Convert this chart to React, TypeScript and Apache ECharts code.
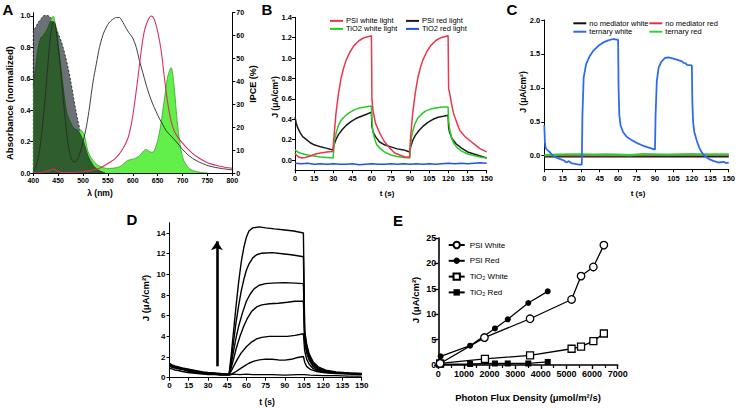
import React, { useEffect, useRef } from 'react';
import * as echarts from 'echarts';

const FONT = '"Liberation Sans", Arial, Helvetica, sans-serif';

// ---------------- Panel A (nm, normalized absorbance / IPCE %) ----------------
const aAbsGray = [[400,0],[400,0.9],[405,0.93],[410,0.96],[415,0.98],[420,1.0],[427,1.005],[433,0.995],[440,0.97],[445,0.935],[450,0.89],[455,0.85],[460,0.8],[465,0.74],[470,0.67],[475,0.59],[480,0.5],[485,0.41],[490,0.33],[495,0.26],[500,0.2],[505,0.15],[510,0.11],[515,0.075],[520,0.05],[525,0.03],[530,0.02],[540,0.005],[545,0]];
const aIpcePct = [[400,38],[405,47],[410,55],[415,59],[420,60],[425,62],[430,64],[435,66.5],[440,68.5],[443,66.5],[447,62],[453,51],[460,38],[467,27],[475,22],[483,19],[490,18.5],[497,18.5],[503,16],[510,9.5],[520,5.5],[533,3],[550,2],[573,2.7],[590,5.5],[603,6.2],[613,7.5],[627,10.3],[637,9],[643,9.6],[653,17],[663,31.5],[670,42],[677,46],[683,38],[690,21],[700,7],[713,2],[733,0.4],[750,0]];
const aOverlap = [[400,0.55],[405,0.68],[410,0.8],[415,0.86],[420,0.875],[425,0.9],[430,0.93],[435,0.965],[440,0.965],[443,0.94],[447,0.9],[453,0.74],[460,0.55],[467,0.39],[475,0.32],[483,0.28],[490,0.27],[497,0.23],[503,0.18],[510,0.11],[520,0.05],[530,0.02],[540,0.005],[545,0]];
const aAbsBlack = [[400,0.01],[405,0.04],[410,0.1],[415,0.2],[420,0.35],[425,0.52],[430,0.72],[435,0.88],[440,0.96],[444,0.95],[450,0.8],[455,0.65],[460,0.48],[467,0.26],[473,0.13],[481,0.07],[487,0.08],[493,0.12],[500,0.2],[507,0.3],[513,0.42],[520,0.58],[527,0.7],[533,0.8],[540,0.88],[547,0.93],[553,0.96],[560,0.98],[567,0.99],[573,0.99],[580,0.96],[587,0.92],[593,0.89],[600,0.86],[607,0.8],[613,0.72],[620,0.64],[627,0.56],[633,0.5],[640,0.44],[647,0.39],[653,0.35],[660,0.31],[667,0.27],[677,0.235],[687,0.2],[700,0.15],[713,0.11],[727,0.08],[740,0.06],[753,0.045],[767,0.035],[780,0.028],[800,0.02]];
const aAbsRed = [[400,0],[420,0.005],[432,0.015],[440,0.025],[447,0.015],[455,0.005],[480,0.003],[500,0.008],[515,0.015],[533,0.03],[550,0.06],[567,0.1],[580,0.155],[590,0.22],[597,0.31],[603,0.43],[610,0.6],[617,0.78],[623,0.9],[630,0.97],[637,1.0],[643,0.98],[650,0.9],[657,0.78],[663,0.62],[670,0.45],[677,0.33],[683,0.27],[690,0.23],[700,0.19],[710,0.155],[720,0.125],[733,0.095],[747,0.07],[760,0.055],[773,0.045],[787,0.035],[800,0.03]];
const aYLeftTicks = [0, 0.2, 0.4, 0.6, 0.8, 1.0];

// ---------------- Panel B (t s, J µA/cm2) ----------------
const bNames = ['PSI white light', 'PSI red light', 'TiO2 white light', 'TiO2 red light'];
const bPsiWhite = [[0,0.07],[1,0.05],[3,0.03],[5,0.02],[8,0.025],[12,0.04],[16,0.06],[20,0.07],[25,0.08],[29.7,0.085],[30.3,0.2],[32,0.45],[34,0.65],[36,0.8],[38,0.9],[40,0.98],[43,1.06],[46,1.12],[50,1.17],[54,1.2],[57,1.21],[59.8,1.22],[60.2,0.6],[61,0.49],[63,0.36],[66.5,0.26],[70,0.18],[74,0.12],[78,0.07],[82,0.05],[86,0.03],[89.7,0.03],[90.3,0.2],[92,0.45],[94,0.65],[96,0.8],[98,0.9],[100,0.98],[103,1.06],[106,1.12],[110,1.17],[114,1.2],[117,1.21],[119.8,1.22],[120.2,0.7],[121,0.66],[122.5,0.55],[124,0.46],[126.5,0.37],[129,0.29],[133,0.23],[137,0.19],[141,0.15],[145,0.11],[150,0.08]];
const bPsiRed = [[0,0.42],[1,0.36],[2,0.32],[4,0.27],[6,0.23],[9,0.2],[12,0.17],[15,0.15],[20,0.13],[25,0.115],[29.7,0.1],[30.3,0.14],[32,0.2],[34,0.25],[37,0.3],[40,0.34],[44,0.38],[48,0.41],[52,0.43],[56,0.45],[59.8,0.47],[60.2,0.33],[61,0.28],[63,0.23],[66,0.18],[70,0.15],[75,0.13],[80,0.11],[85,0.1],[89.7,0.08],[90.3,0.12],[92,0.19],[94,0.24],[97,0.29],[100,0.33],[104,0.37],[108,0.4],[112,0.42],[116,0.43],[119.8,0.44],[120.2,0.32],[121,0.27],[123,0.21],[126,0.16],[130,0.12],[135,0.08],[140,0.06],[145,0.04],[150,0.02]];
const bTiO2White = [[0,0.1],[2,0.08],[5,0.065],[10,0.05],[15,0.04],[20,0.03],[25,0.025],[29.8,0.02],[30.3,0.1],[31,0.2],[32.5,0.28],[34,0.34],[36,0.39],[39,0.43],[42,0.46],[46,0.49],[50,0.51],[55,0.52],[59.8,0.53],[60.2,0.38],[61,0.28],[62.5,0.2],[64,0.15],[67,0.11],[70,0.08],[75,0.05],[80,0.035],[85,0.025],[89.8,0.02],[90.3,0.12],[91,0.22],[92.5,0.3],[94,0.36],[96,0.41],[99,0.45],[102,0.48],[106,0.5],[110,0.51],[115,0.52],[119.8,0.52],[120.2,0.38],[121,0.3],[122.5,0.22],[124,0.17],[127,0.12],[130,0.09],[135,0.06],[140,0.045],[145,0.03],[150,0.02]];
const bTiO2Red = [[0,-0.03],[5,-0.035],[10,-0.03],[15,-0.04],[20,-0.035],[25,-0.04],[30,-0.035],[35,-0.04],[40,-0.04],[45,-0.035],[50,-0.045],[55,-0.04],[60,-0.035],[65,-0.04],[70,-0.04],[75,-0.035],[80,-0.04],[85,-0.035],[90,-0.04],[95,-0.035],[100,-0.04],[105,-0.035],[110,-0.04],[115,-0.035],[120,-0.03],[125,-0.035],[130,-0.03],[135,-0.035],[140,-0.03],[145,-0.025],[150,-0.03]];
const bYTicks = [0, 0.2, 0.4, 0.6, 0.8, 1.0, 1.2, 1.4];

// ---------------- Panel C ----------------
const cNames = ['no mediator white', 'no mediator red', 'ternary white', 'ternary red'];
const cNoMedWhite = [[0,-0.01],[20,-0.012],[40,-0.01],[60,-0.008],[80,-0.01],[100,-0.008],[120,-0.01],[150,-0.01]];
const cNoMedRed = [[0,0.0],[30,0.002],[60,0.0],[90,0.003],[120,0.002],[150,0.003]];
const cTernaryWhite = [[0,0.45],[0.5,0.2],[1,0.12],[2,0.09],[4,0.06],[6,0.02],[8,-0.01],[10,-0.03],[13,-0.05],[16,-0.07],[18,-0.1],[20,-0.08],[22,-0.11],[25,-0.12],[28,-0.13],[30.5,-0.13],[31,0.6],[32,1.15],[34,1.35],[37,1.47],[40,1.55],[44,1.62],[48,1.67],[52,1.7],[56,1.72],[59,1.71],[60,1.71],[60.4,1.0],[61,0.6],[62,0.45],[64,0.35],[67,0.28],[71,0.23],[75,0.19],[80,0.15],[85,0.12],[90,0.09],[90.5,0.6],[91.5,1.1],[93,1.3],[95,1.38],[98,1.44],[101,1.45],[105,1.43],[109,1.41],[112,1.39],[113,1.37],[115,1.36],[116,1.34],[120,1.33],[120.4,0.8],[121,0.5],[122,0.35],[124,0.22],[126,0.12],[128,0.05],[131,-0.01],[134,-0.05],[138,-0.08],[142,-0.1],[146,-0.09],[148,-0.11],[150,-0.1]];
const cTernaryRed = [[0,0.01],[10,0.015],[20,0.02],[30,0.02],[40,0.015],[50,0.02],[60,0.015],[70,0.01],[80,0.025],[90,0.02],[100,0.015],[110,0.02],[120,0.025],[130,0.02],[140,0.02],[150,0.02]];
const cYTicks = [0, 0.5, 1.0, 1.5, 2.0];

// ---------------- Panel D ----------------
const d1 = [[0,0.9],[2,0.85],[4,0.75],[7,0.7],[10,0.6],[14,0.5],[18,0.45],[22,0.4],[26,0.35],[30,0.3],[35,0.3],[40,0.25],[46.5,0.25],[50,0.35],[55,0.3],[60,0.35],[65,0.3],[70,0.3],[80,0.3],[90,0.25],[100,0.3],[105,0.3],[110,0.25],[120,0.2],[130,0.2],[140,0.15],[150,0.15]];
const d2 = [[0,1.2],[2,1.05],[4,0.95],[7,0.9],[10,0.8],[14,0.7],[18,0.6],[22,0.5],[26,0.45],[30,0.4],[35,0.35],[40,0.3],[46.5,0.3],[49,0.4],[52,0.6],[55,0.85],[58,1.1],[62,1.4],[66,1.6],[70,1.72],[75,1.8],[80,1.78],[85,1.72],[90,1.7],[95,1.78],[100,1.95],[104.5,2.05],[105.5,1.5],[107,1.1],[110,0.8],[115,0.6],[120,0.5],[130,0.4],[140,0.35],[150,0.3]];
const d3 = [[0,1.1],[2,1.0],[4,0.95],[7,0.85],[10,0.8],[14,0.65],[18,0.55],[22,0.5],[26,0.45],[30,0.4],[35,0.35],[40,0.3],[46.5,0.3],[48,0.6],[50,1.1],[53,1.8],[56,2.4],[60,3.0],[64,3.45],[68,3.75],[72,3.9],[78,4.0],[85,4.0],[92,4.0],[98,4.1],[104.5,4.25],[105.5,2.6],[107,1.8],[109,1.3],[112,0.9],[116,0.65],[122,0.5],[130,0.45],[140,0.4],[150,0.35]];
const d4 = [[0,1.25],[2,1.1],[4,1.0],[7,0.9],[10,0.85],[14,0.7],[18,0.6],[22,0.55],[26,0.45],[30,0.4],[35,0.35],[40,0.3],[46.5,0.3],[48,0.9],[50,1.8],[52,2.8],[55,4.0],[58,5.0],[61,5.8],[64,6.4],[68,6.85],[72,7.05],[78,7.15],[85,7.2],[92,7.3],[98,7.4],[104.5,7.4],[105.5,3.4],[107,2.4],[109,1.7],[112,1.1],[116,0.75],[122,0.55],[130,0.45],[140,0.4],[150,0.35]];
const d5 = [[0,1.3],[2,1.15],[4,1.0],[7,0.95],[10,0.85],[14,0.75],[18,0.65],[22,0.55],[26,0.5],[30,0.45],[35,0.4],[40,0.35],[46.5,0.3],[48,1.2],[50,2.6],[52,3.9],[54,5.0],[57,6.3],[60,7.4],[63,8.1],[66,8.6],[70,8.95],[75,9.1],[80,9.15],[90,9.2],[98,9.15],[104.5,9.1],[105.5,3.8],[107,2.7],[109,1.9],[112,1.25],[116,0.85],[122,0.6],[130,0.48],[140,0.42],[150,0.38]];
const d6 = [[0,1.35],[2,1.2],[4,1.1],[7,1.0],[10,0.9],[14,0.8],[18,0.7],[22,0.6],[26,0.5],[30,0.45],[35,0.4],[40,0.35],[46.5,0.35],[48,1.5],[50,3.5],[52,5.4],[54,7.0],[56,8.4],[58,9.5],[60,10.4],[62,11.0],[65,11.6],[68,11.9],[72,12.05],[80,12.1],[88,12.0],[95,11.9],[100,11.8],[104.5,11.7],[105.5,4.2],[107,3.0],[109,2.1],[112,1.4],[116,0.95],[122,0.65],[130,0.5],[140,0.43],[150,0.38]];
const d7 = [[0,1.4],[2,1.25],[4,1.15],[7,1.05],[10,0.95],[14,0.85],[18,0.75],[22,0.65],[26,0.55],[30,0.5],[35,0.45],[40,0.4],[46.5,0.35],[48,2.0],[50,4.5],[52,7.0],[54,9.3],[56,11.2],[58,12.6],[60,13.6],[62,14.2],[65,14.5],[70,14.6],[75,14.5],[82,14.4],[90,14.3],[97,14.2],[104.5,14.0],[105.5,4.6],[107,3.3],[109,2.3],[112,1.55],[116,1.05],[122,0.72],[130,0.55],[140,0.45],[150,0.4]];
const dTraces = [d1, d2, d3, d4, d5, d6, d7];
const dArrow = [37, 1.1, 13.2]; // t, from J, to J
const dYTicks = [0, 2, 4, 6, 8, 10, 12, 14];

// ---------------- Panel E ----------------
const eNames = ['PSI White', 'PSI Red', 'TiO\u2082 White', 'TiO\u2082 Red'];
const ePsiWhite = [[70,0.3],[1800,5.4],[3580,9.1],[5200,12.9],[5570,17.5],[6050,19.3],[6460,23.6]];
const ePsiRed = [[90,1.7],[1240,3.8],[2210,7.2],[2710,9.0],[3510,12.2],[4270,14.5]];
const eTiO2White = [[70,0.3],[1820,1.2],[3580,1.9],[5200,3.2],[5570,3.6],[6050,4.7],[6460,6.2]];
const eTiO2Red = [[90,0.1],[1240,0.2],[2210,0.3],[2710,0.3],[3510,0.3],[4270,0.6]];

function merge(a: any, b: any): any {
  const out: any = { ...a };
  for (const k in b) {
    const v = b[k];
    if (v && typeof v === 'object' && !Array.isArray(v) && a[k] && typeof a[k] === 'object') out[k] = merge(a[k], v);
    else out[k] = v;
  }
  return out;
}

const plain = (v: number) => String(v);
const fmt1 = (v: number) => v.toFixed(1);

function axis(fs: number, extra: any) {
  return merge({
    type: 'value',
    axisLine: { show: true, onZero: false, lineStyle: { color: '#000', width: 1 } },
    axisTick: { show: true, inside: false, length: 3, lineStyle: { color: '#000', width: 1 } },
    axisLabel: { color: '#000', fontSize: fs, fontWeight: 'bold', fontFamily: FONT, margin: 3, formatter: plain },
    splitLine: { show: false },
  }, extra);
}

function lineS(name: string, data: any, xi: number, yi: number, color: string, width: number, extra: any = {}) {
  return merge({
    type: 'line', name, data, xAxisIndex: xi, yAxisIndex: yi,
    showSymbol: false, symbol: 'none', silent: true,
    lineStyle: { color, width }, itemStyle: { color },
  }, extra);
}

function txt(text: string, x: number, y: number, size: number, rot = false, weight = 'bold') {
  return {
    type: 'text', x, y, rotation: rot ? Math.PI / 2 : 0, silent: true,
    style: { text, font: `${weight} ${size}px ${FONT}`, fill: '#000', align: 'center', verticalAlign: 'middle', textAlign: 'center', textVerticalAlign: 'middle' },
  };
}

function lineLegend(data: string[], left: number, top: number, lh: number) {
  return {
    data, orient: 'vertical', left, top, padding: 0, itemGap: 0, itemWidth: 13, itemHeight: 2,
    icon: 'rect', selectedMode: false,
    textStyle: { fontSize: 7.5, fontFamily: FONT, color: '#000', lineHeight: lh, padding: [0, 0, 0, -2] },
  };
}

export default function App() {
  const ref = useRef<HTMLDivElement>(null);
  useEffect(() => {
    if (!ref.current) return;
    const chart = echarts.init(ref.current, null, { renderer: 'svg' });
    const option: any = {
      animation: false,
      backgroundColor: '#fff',
      textStyle: { fontFamily: FONT },
      grid: [
        { left: 33.3, top: 12.7, width: 199, height: 160.3 },
        { left: 295, top: 17.3, width: 191.7, height: 153 },
        { left: 544.3, top: 20, width: 186.4, height: 149.3 },
        { left: 169.5, top: 222.7, width: 192.2, height: 155 },
        { left: 438.3, top: 238, width: 179.4, height: 127 },
      ],
      xAxis: [
        axis(7, { gridIndex: 0, min: 400, max: 800, interval: 50, axisLabel: { margin: 4 } }),
        axis(7.5, { gridIndex: 1, min: 0, max: 150, interval: 15, axisLabel: { margin: 4 } }),
        axis(7.5, { gridIndex: 2, min: 0, max: 150, interval: 15, axisLabel: { margin: 5 } }),
        axis(8, { gridIndex: 3, min: 0, max: 150, interval: 15, axisLabel: { margin: 4 } }),
        axis(9, { gridIndex: 4, min: 0, max: 7000, interval: 1000, axisLine: { lineStyle: { width: 1.6 } }, axisTick: { length: 4, lineStyle: { width: 1.4 } }, minorTick: { show: true, splitNumber: 2, length: 3, lineStyle: { color: '#000', width: 1.2 } }, axisLabel: { margin: 4 } }),
      ],
      yAxis: [
        axis(7, { gridIndex: 0, min: 0, max: 1.021, axisLabel: { customValues: aYLeftTicks, formatter: fmt1, margin: 3 }, axisTick: { customValues: aYLeftTicks } }),
        axis(7, { gridIndex: 0, position: 'right', min: 0, max: 70, interval: 10, axisLabel: { margin: 4 } }),
        axis(7.5, { gridIndex: 1, min: -0.1, max: 1.4, axisLabel: { customValues: bYTicks, formatter: fmt1, margin: 3 }, axisTick: { customValues: bYTicks } }),
        axis(7.5, { gridIndex: 2, min: -0.2, max: 2.0, axisLabel: { customValues: cYTicks, formatter: fmt1, margin: 4 }, axisTick: { customValues: cYTicks } }),
        axis(8, { gridIndex: 3, min: 0, max: 15, axisLabel: { customValues: dYTicks, margin: 4 }, axisTick: { customValues: dYTicks } }),
        axis(9, { gridIndex: 4, min: 0, max: 25, interval: 5, axisLine: { lineStyle: { width: 1.6 } }, axisTick: { length: 4, lineStyle: { width: 1.4 } }, axisLabel: { margin: 2 } }),
      ],
      legend: [
        lineLegend([bNames[0], bNames[2]], 330, 16.9, 7.6),
        lineLegend([bNames[1], bNames[3]], 406, 16.9, 7.6),
        lineLegend([cNames[0], cNames[2]], 573.3, 19.1, 8.4),
        lineLegend([cNames[1], cNames[3]], 649.3, 19.1, 8.4),
        {
          data: eNames, orient: 'vertical', left: 447.7, top: 240.5, padding: 0, itemGap: 6.8,
          itemWidth: 16, itemHeight: 8, selectedMode: false,
          textStyle: { fontSize: 8, fontFamily: FONT, color: '#000', lineHeight: 9 },
        },
      ],
      series: [
        // A
        lineS('abs gray', aAbsGray, 0, 0, '#000', 0.7, { smooth: 0.3, lineStyle: { type: [2, 2] }, areaStyle: { color: '#6c7177', opacity: 1 }, z: 1 }),
        lineS('IPCE', aIpcePct, 0, 1, '#3f9f30', 0.8, { smooth: 0.3, areaStyle: { color: '#63ef49', opacity: 1 }, z: 2 }),
        lineS('overlap', aOverlap, 0, 0, '#1e421d', 0.8, { smooth: 0.3, areaStyle: { color: '#2f5d2d', opacity: 1 }, z: 3 }),
        lineS('abs black', aAbsBlack, 0, 0, '#2a2a2a', 0.9, { smooth: 0.3, z: 4 }),
        lineS('abs red', aAbsRed, 0, 0, '#d8315b', 1.1, { smooth: 0.3, z: 5 }),
        // B
        lineS(bNames[1], bPsiRed, 1, 2, '#1a1a1a', 1.5),
        lineS(bNames[2], bTiO2White, 1, 2, '#27c927', 1.5),
        lineS(bNames[3], bTiO2Red, 1, 2, '#2250f0', 1.5),
        lineS(bNames[0], bPsiWhite, 1, 2, '#e8384f', 1.5),
        // C
        lineS(cNames[0], cNoMedWhite, 2, 3, '#111', 2),
        lineS(cNames[1], cNoMedRed, 2, 3, '#d9344f', 1.5),
        lineS(cNames[3], cTernaryRed, 2, 3, '#2fcf3a', 2.2),
        lineS(cNames[2], cTernaryWhite, 2, 3, '#2f6bf0', 1.8),
        // D
        ...dTraces.map((d, i) => lineS('D' + (i + 1), d, 3, 4, '#000', 1.4, i === 0 ? {
          markLine: {
            silent: true, symbol: ['none', 'arrow'], symbolSize: 9, animation: false,
            label: { show: false },
            lineStyle: { color: '#000', width: 2.6, type: 'solid' },
            data: [[{ coord: [dArrow[0], dArrow[1]] }, { coord: [dArrow[0], dArrow[2]] }]],
          },
        } : {})),
        // E
        lineS(eNames[2], eTiO2White, 4, 5, '#000', 1.3, { showSymbol: true, symbol: 'rect', symbolSize: 7, itemStyle: { color: '#fff', borderColor: '#000', borderWidth: 1.3 } }),
        lineS(eNames[3], eTiO2Red, 4, 5, '#000', 1.3, { showSymbol: true, symbol: 'rect', symbolSize: 6, itemStyle: { color: '#000' } }),
        lineS(eNames[1], ePsiRed, 4, 5, '#000', 1.3, { showSymbol: true, symbol: 'circle', symbolSize: 6, itemStyle: { color: '#000' } }),
        lineS(eNames[0], ePsiWhite, 4, 5, '#000', 1.3, { showSymbol: true, symbol: 'circle', symbolSize: 7.5, itemStyle: { color: '#fff', borderColor: '#000', borderWidth: 1.3 } }),
      ],
      graphic: [
        txt('A', 8, 9, 15),
        txt('B', 267, 9, 15),
        txt('C', 512, 9, 15),
        txt('D', 132, 219, 15),
        txt('E', 398, 220, 15),
        txt('Absorbance (normalized)', 9, 103, 9.5, true),
        txt('IPCE (%)', 253, 84, 9, true),
        txt('\u03bb (nm)', 100, 193, 8.5),
        txt('J (\u03bcA/cm\u00b2)', 275, 97, 8.5, true),
        txt('t (s)', 387, 193, 8),
        txt('J (\u03bcA/cm\u00b2)', 523, 92, 8.5, true),
        txt('t (s)', 638, 193, 8),
        txt('J (\u03bcA/cm\u00b2)', 145.5, 298, 9.5, true),
        txt('t (s)', 267, 402, 8.5),
        txt('J (\u03bcA/cm\u00b2)', 415, 300, 9.5, true),
        txt('Photon Flux Density (\u03bcmol/m\u00b2/s)', 528, 397, 9.5),
      ],
    };
    chart.setOption(option);
    return () => chart.dispose();
  }, []);
  return <div ref={ref} style={{ position: 'fixed', left: 0, top: 0, width: 738, height: 408, background: '#fff' }} />;
}
